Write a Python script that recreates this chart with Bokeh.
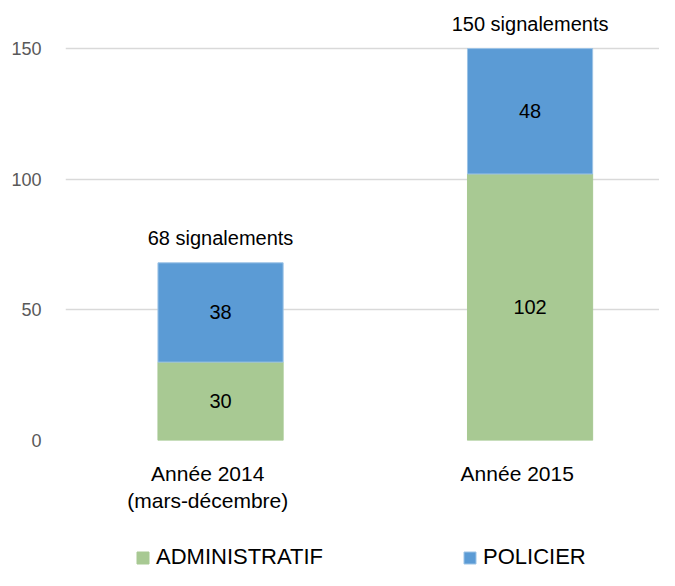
from bokeh.plotting import figure
from bokeh.models import ColumnDataSource, Legend, LegendItem, Range1d, FactorRange
from bokeh.layouts import column
from bokeh.transform import dodge
from bokeh.core.properties import value
from bokeh.embed import file_html
from bokeh.resources import INLINE

categories = ["Année 2014\n(mars-décembre)", "Année 2015"]
series_names = ["ADMINISTRATIF", "POLICIER"]
series_colors = ["#a8c993", "#5b9bd5"]
series_edges = ["#a8c993", "#9cc3e6"]
administratif = [30, 102]
policier = [38, 48]
totals = [a + b for a, b in zip(administratif, policier)]
total_labels = [f"{t} signalements" for t in totals]
y_ticks = [0, 50, 100, 150]

FONT = "Liberation Sans"

src = ColumnDataSource(dict(
    cat=categories,
    adm=administratif,
    pol=policier,
    top=totals,
    adm_mid=[a / 2 for a in administratif],
    pol_mid=[a + b / 2 for a, b in zip(administratif, policier)],
    adm_txt=[str(a) for a in administratif],
    pol_txt=[str(b) for b in policier],
    tot_txt=total_labels,
))

xr = FactorRange(*categories, range_padding=0, factor_padding=0.088)
p = figure(x_range=xr, y_range=Range1d(0, 168.4),
           width=659, height=538, output_backend="svg", toolbar_location=None,
           min_border_left=65, min_border_right=0, min_border_top=0, min_border_bottom=98)
p.outline_line_color = None
p.background_fill_color = "white"

xc = dodge("cat", 0.045, range=xr)
BW = 0.44
p.vbar(x=xc, bottom=0, top="adm", width=BW, source=src,
       fill_color=series_colors[0], line_color=series_edges[0])
p.vbar(x=xc, bottom="adm", top="top", width=BW, source=src,
       fill_color=series_colors[1], line_color=series_edges[1], line_width=1)

for y, t in (("adm_mid", "adm_txt"), ("pol_mid", "pol_txt")):
    p.text(x=xc, y=y, text=t, source=src, text_align="center", text_baseline="middle",
           text_font=value(FONT), text_font_size="20px", text_color="#000000")
p.text(x=xc, y="top", text="tot_txt", source=src, text_align="center", text_baseline="alphabetic",
       y_offset=-25, text_font=value(FONT), text_font_size="20px", text_color="#000000")

p.xgrid.grid_line_color = None
p.ygrid.grid_line_color = "#d9d9d9"
p.ygrid.grid_line_width = 1.6
p.yaxis.ticker = y_ticks
p.yaxis.axis_line_color = None
p.yaxis.major_tick_line_color = None
p.yaxis.minor_tick_line_color = None
p.yaxis.major_label_text_font = FONT
p.yaxis.major_label_text_font_size = "18px"
p.yaxis.major_label_text_color = "#595959"
p.yaxis.major_label_standoff = 18

p.xaxis.axis_line_color = None
p.xaxis.major_tick_line_color = None
p.xaxis.major_label_text_font = FONT
p.xaxis.major_label_text_font_size = "21px"
p.xaxis.major_label_text_color = "#000000"
p.xaxis.major_label_standoff = 15

# legend in its own strip below the chart
lf = figure(x_range=Range1d(0, 1), y_range=Range1d(0, 1), width=659, height=32,
            output_backend="svg", toolbar_location=None,
            min_border_left=0, min_border_right=0, min_border_top=0, min_border_bottom=0)
lf.axis.visible = False
lf.grid.grid_line_color = None
lf.outline_line_color = None
nan = float("nan")
lsrc = ColumnDataSource(dict(name=series_names, color=series_colors, edge=series_edges,
                             x=[nan] * len(series_names), top=[nan] * len(series_names)))
lr = lf.vbar(x="x", top="top", width=0.1, source=lsrc,
             fill_color="color", line_color="edge")
legend = Legend(items=[LegendItem(label=n, renderers=[lr], index=i) for i, n in enumerate(series_names)],
                orientation="horizontal", location=(70, 0),
                label_text_font=FONT, label_text_font_size="22px",
                label_text_color="#000000", glyph_width=15, glyph_height=15,
                spacing=139, label_standoff=6, border_line_color=None,
                background_fill_alpha=0, margin=0, padding=0)
lf.add_layout(legend, "center")

layout = column(p, lf, spacing=0)
open("out.html", "w").write(file_html(layout, INLINE))
